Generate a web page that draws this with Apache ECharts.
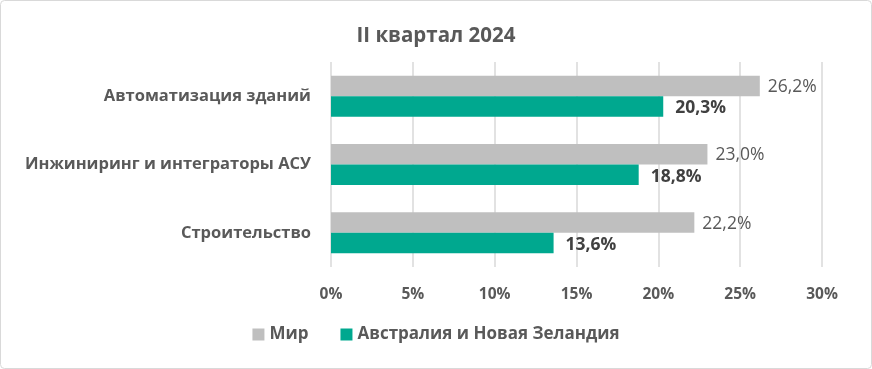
<!DOCTYPE html>
<html><head><meta charset="utf-8">
<script src="https://cdn.jsdelivr.net/npm/echarts@6/dist/echarts.min.js"></script>
<style>html,body{margin:0;padding:0;background:#fff}#c{width:872px;height:369px}</style>
</head><body><div id="c"></div>
<script>
const titleText = 'II квартал 2024';
const categories = ['Автоматизация зданий', 'Инжиниринг и интеграторы АСУ', 'Строительство'];
const seriesNames = ['Мир', 'Австралия и Новая Зеландия'];
const worldValues = [26.2, 23.0, 22.2];
const anzValues = [20.3, 18.8, 13.6];
const axisMin = 0, axisMax = 30, axisStep = 5;

const FONT = '"Open Sans", sans-serif';
const fmt = v => v.toFixed(1).replace('.', ',') + '%';
const chart = echarts.init(document.getElementById('c'), null, {renderer: 'canvas'});
chart.setOption({
  backgroundColor: '#fff',
  animation: false,
  graphic: [{type: 'rect', shape: {x: 0.5, y: 0.5, width: 871, height: 368, r: 4},
    style: {fill: 'none', stroke: '#d9d9d9', lineWidth: 1}, silent: true}],
  title: {text: titleText, left: 'center', top: 21,
    textStyle: {fontFamily: FONT, fontSize: 20.5, fontWeight: 'bold', color: '#595959'}},
  legend: {data: seriesNames, bottom: 21, left: 'center', itemWidth: 12, itemHeight: 12, itemGap: 32,
    icon: 'rect', textStyle: {fontFamily: FONT, fontSize: 17, fontWeight: 'bold', color: '#595959'}},
  grid: {left: 331, right: 50, top: 62, bottom: 102, containLabel: false},
  xAxis: {type: 'value', min: axisMin, max: axisMax, interval: axisStep,
    axisLine: {show: false}, axisTick: {show: false},
    splitLine: {lineStyle: {color: '#d9d9d9', width: 1.5}},
    axisLabel: {formatter: v => v + '%', margin: 20, fontFamily: FONT, fontSize: 15.5, fontWeight: 'bold', color: '#595959'}},
  yAxis: {type: 'category', data: categories, inverse: true,
    axisLine: {show: false}, axisTick: {show: false},
    axisLabel: {margin: 20, fontFamily: FONT, fontSize: 16.5, fontWeight: 'bold', color: '#595959'}},
  series: [
    {name: seriesNames[0], type: 'bar', data: worldValues, barGap: '0%', barCategoryGap: '40%',
      itemStyle: {color: '#bfbfbf'},
      label: {show: true, position: 'right', distance: 8, offset: [0, 1], formatter: p => fmt(p.value),
        fontFamily: FONT, fontSize: 17.5, color: '#595959'}},
    {name: seriesNames[1], type: 'bar', data: anzValues,
      itemStyle: {color: '#00a88f'},
      label: {show: true, position: 'right', distance: 12, offset: [0, 2], formatter: p => fmt(p.value),
        fontFamily: FONT, fontSize: 17.5, fontWeight: 'bold', color: '#404040'}}
  ]
});
</script></body></html>
